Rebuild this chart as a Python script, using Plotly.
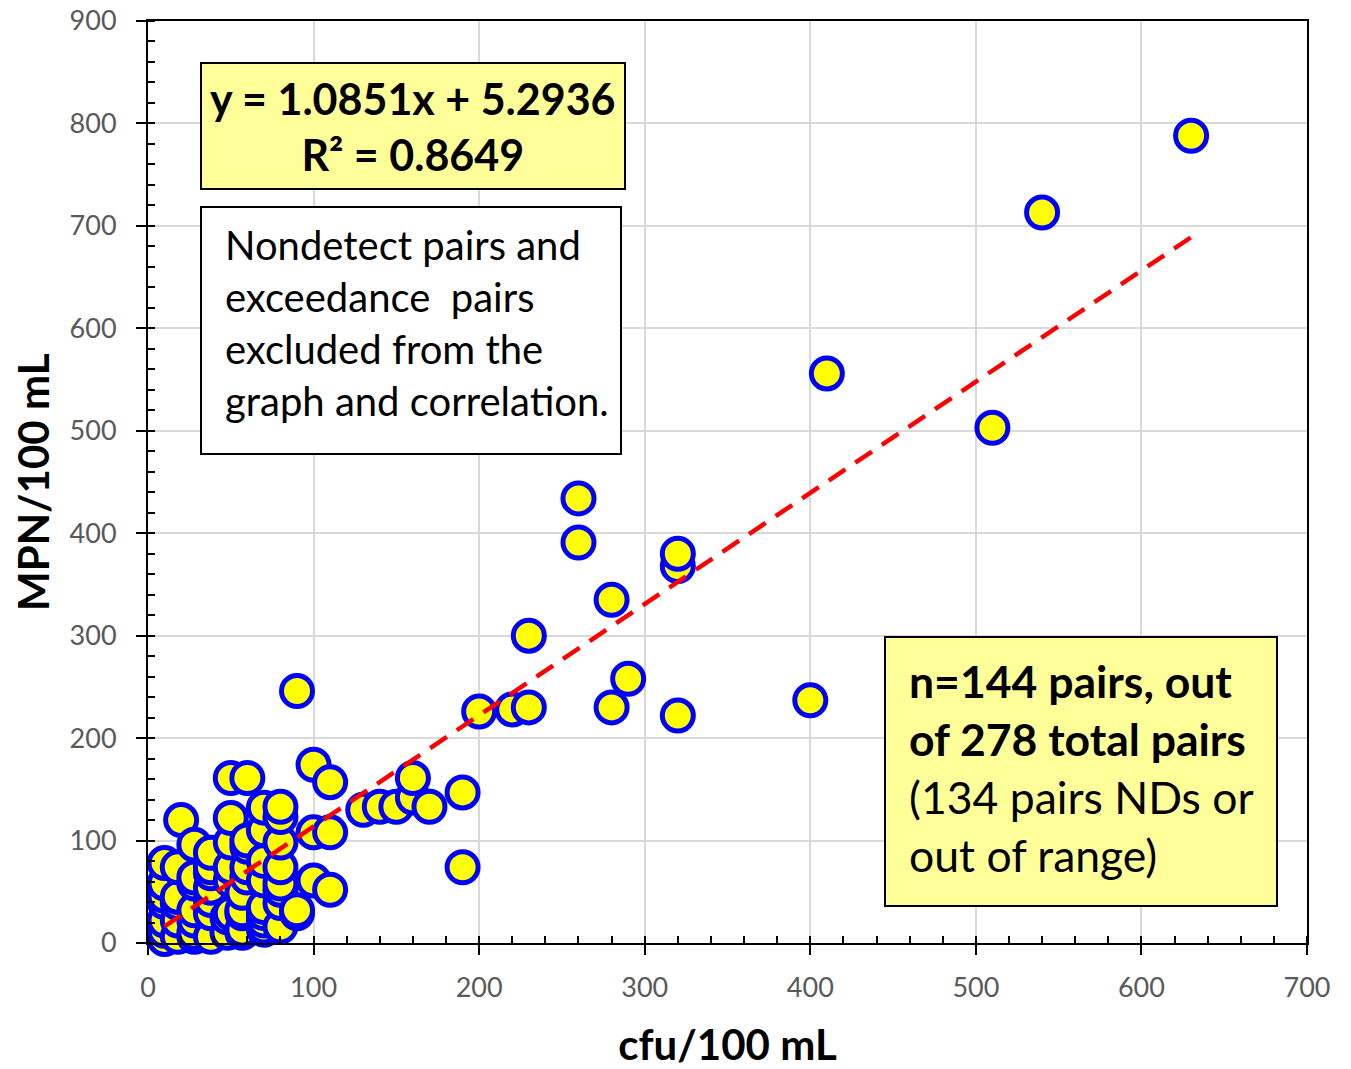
import plotly.graph_objects as go

# ---- data ----
cfu = [
    10, 10, 10, 10, 10, 10, 10,
    18, 18, 18, 18, 18, 20,
    28, 28, 28, 28, 28, 28, 28,
    38, 38, 38, 38, 38, 38, 38,
    48, 48, 50, 50, 50, 50, 50, 50,
    57, 57, 57, 57, 57, 60, 60, 60, 60, 60,
    70, 70, 70, 70, 70, 70, 70, 70, 70,
    80, 80, 80, 80, 80, 80, 80, 80,
    90, 90, 90, 100, 100, 100, 110, 110, 110,
    130, 140, 150, 160, 160, 170, 190, 190,
    200, 220, 230, 230, 260, 260, 280, 280, 290,
    320, 320, 320, 400, 410, 510, 540, 630,
]
mpn = [
    4, 12, 22, 40, 46, 58, 78,
    6, 22, 39, 45, 74, 120,
    6, 10, 22, 32, 58, 64, 96,
    6, 29, 42, 54, 68, 74, 88,
    10, 25, 29, 61, 74, 98, 122, 161,
    10, 13, 29, 32, 49, 64, 74, 94, 100, 161,
    13, 16, 22, 29, 35, 61, 80, 110, 132,
    16, 39, 52, 58, 74, 98, 123, 133,
    29, 32, 246, 61, 108, 174, 52, 108, 157,
    130, 133, 133, 142, 161, 133, 74, 147,
    226, 228, 230, 300, 391, 434, 230, 335, 258,
    222, 368, 380, 237, 556, 503, 713, 788,
]

slope = 1.0851
intercept = 5.2936
r_squared = 0.8649
n_pairs = 144
total_pairs = 278
excluded_pairs = 134

x_ticks = [0, 100, 200, 300, 400, 500, 600, 700]
y_ticks = [0, 100, 200, 300, 400, 500, 600, 700, 800, 900]

FONT = "Lato"

fig = go.Figure()

fig.add_trace(go.Scatter(
    x=cfu, y=mpn, mode="markers",
    marker=dict(size=31, color="#FFFF00", line=dict(color="#0000FF", width=5)),
    cliponaxis=False, showlegend=False,
))

x_line = [min(cfu), max(cfu)]
y_line = [slope * v + intercept for v in x_line]
fig.add_trace(go.Scatter(
    x=x_line, y=y_line, mode="lines",
    line=dict(color="#FF0000", width=4.5, dash="20px,12px"),
    showlegend=False,
))

axis_common = dict(
    showline=True, linecolor="black", linewidth=2, mirror=True,
    ticks="outside", ticklen=10, tickwidth=2, tickcolor="black",
    showgrid=True, gridcolor="#D9D9D9", gridwidth=2, zeroline=False,
    tickfont=dict(family=FONT, size=27, color="#595959"),
    ticklabeloverflow="allow",
)

fig.update_xaxes(
    range=[0, 700], tickvals=x_ticks, ticktext=[str(v) for v in x_ticks],
    minor=dict(dtick=20, tick0=0, ticks="inside", ticklen=7, tickwidth=2,
               tickcolor="black", showgrid=False),
    ticklabelstandoff=10,
    title=dict(text="<b>cfu/100 mL</b>", font=dict(family=FONT, size=42, color="black"),
               standoff=28),
    **axis_common,
)
fig.update_yaxes(
    range=[0, 900], tickvals=y_ticks, ticktext=[str(v) for v in y_ticks],
    minor=dict(dtick=20, tick0=0, ticks="inside", ticklen=7, tickwidth=2,
               tickcolor="black", showgrid=False),
    ticklabelstandoff=14,
    **axis_common,
)

# body margin removed via post_script, so the figure fills the window
W, H = 1351, 1069
L, T = 148, 21
PW, PH = 1159, 922
R, B = W - L - PW, H - T - PH


def px(xp):
    return (xp - L) / PW


def py(yp):
    return (T + PH - yp) / PH


shapes = [
    dict(type="rect", xref="paper", yref="paper", x0=px(201), x1=px(625), y0=py(189), y1=py(63),
         fillcolor="#FFFF99", line=dict(color="black", width=2), layer="above"),
    dict(type="rect", xref="paper", yref="paper", x0=px(201), x1=px(621), y0=py(454), y1=py(207),
         fillcolor="white", line=dict(color="black", width=2), layer="above"),
    dict(type="rect", xref="paper", yref="paper", x0=px(885), x1=px(1277), y0=py(906), y1=py(637),
         fillcolor="#FFFF99", line=dict(color="black", width=2), layer="above"),
]

eq_text = f"<b>y = {slope:.4f}x + {intercept:.4f}<br>R² = {r_squared:.4f}</b>"
nd_text = "Nondetect pairs and<br>exceedance  pairs<br>excluded from the<br>graph and correlation."
n_text = (f"<b>n={n_pairs} pairs, out<br>of {total_pairs} total pairs</b><br>"
          f"({excluded_pairs} pairs NDs or<br>out of range)")

annotations = [
    dict(xref="paper", yref="paper", x=px(413), y=py(127), text=eq_text, showarrow=False,
         xanchor="center", yanchor="middle", align="center",
         font=dict(family=FONT, size=43, color="black")),
    dict(xref="paper", yref="paper", x=px(223), y=py(323), text=nd_text, showarrow=False,
         xanchor="left", yanchor="middle", align="left",
         font=dict(family=FONT, size=40, color="black")),
    dict(xref="paper", yref="paper", x=px(907), y=py(767), text=n_text, showarrow=False,
         xanchor="left", yanchor="middle", align="left",
         font=dict(family=FONT, size=44.5, color="black")),
    # y-axis title
    dict(xref="paper", yref="paper", x=px(33), y=py(482), text="<b>MPN/100 mL</b>",
         showarrow=False, textangle=-90, xanchor="center", yanchor="middle",
         font=dict(family=FONT, size=42, color="black")),
]

fig.update_layout(
    width=W, height=H,
    margin=dict(l=L, r=R, t=T, b=B, autoexpand=False),
    paper_bgcolor="white", plot_bgcolor="white",
    shapes=shapes, annotations=annotations,
    showlegend=False,
)

fig.write_html(
    "out.html",
    config={"displayModeBar": False},
    post_script="document.body.style.margin='0';document.body.style.overflow='hidden';",
)
